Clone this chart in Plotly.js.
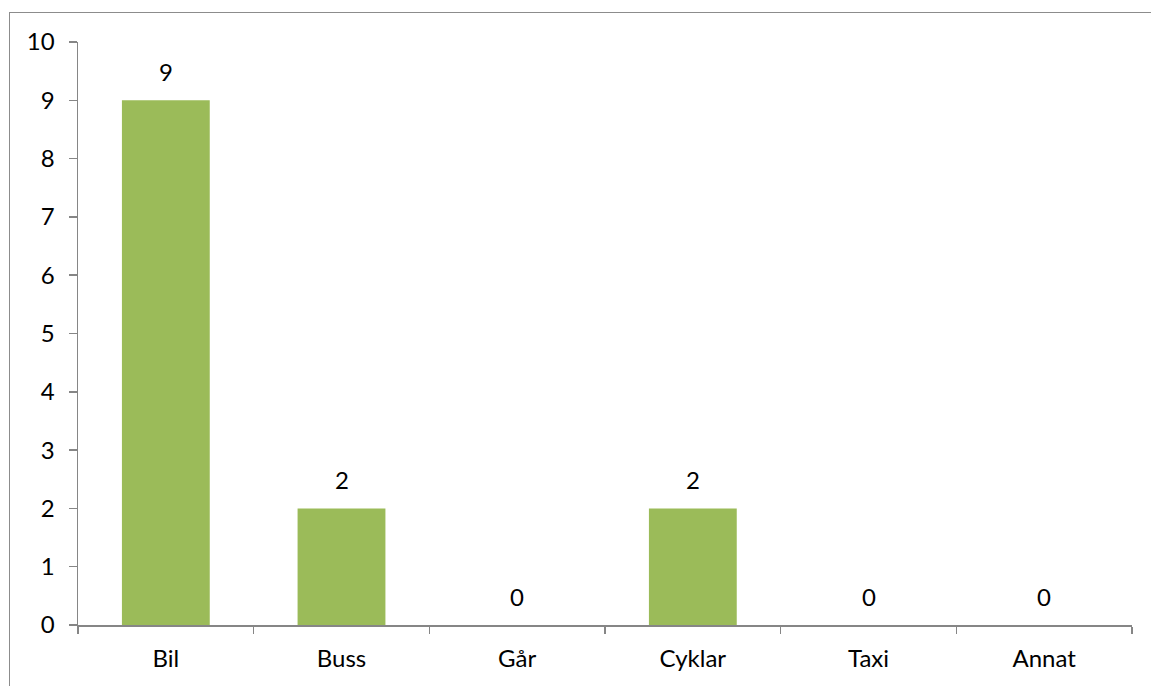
<!DOCTYPE html>
<html>
<head>
<meta charset="utf-8">
<script src="https://cdn.plot.ly/plotly-3.0.1.min.js"></script>
<style>
  html, body { margin: 0; padding: 0; background: #fff; overflow: hidden; }
  #chart { position: absolute; left: 0; top: 0; width: 1151px; height: 686px; }
  #frame { position: absolute; left: 9px; top: 12px; width: 1200px; height: 800px;
           border-left: 1.5px solid #8c8c8c; border-top: 1.5px solid #8c8c8c; pointer-events: none; }
</style>
</head>
<body>
<div id="chart"></div>
<div id="frame"></div>
<script>
const categories = ["Bil", "Buss", "Går", "Cyklar", "Taxi", "Annat"];
const values = [9, 2, 0, 2, 0, 0];
const yTicks = [0, 1, 2, 3, 4, 5, 6, 7, 8, 9, 10];

const FONT = "Lato, 'Open Sans', sans-serif";
const FS = 24;

const trace = {
  type: "bar",
  x: categories,
  y: values,
  marker: { color: "#9BBB59", line: { width: 0 } },
  width: 0.5,
  hoverinfo: "x+y"
};

const annotations = categories.map((c, i) => ({
  x: c, y: values[i], xref: "x", yref: "y",
  text: String(values[i]),
  showarrow: false,
  yanchor: "bottom",
  yshift: 12,
  font: { family: FONT, size: FS, color: "#000" }
}));

const layout = {
  width: 1151, height: 686,
  margin: { l: 78, r: 19, t: 42, b: 61 },
  paper_bgcolor: "rgba(0,0,0,0)",
  plot_bgcolor: "#fff",
  showlegend: false,
  font: { family: FONT, size: FS, color: "#000" },
  xaxis: {
    type: "category",
    showline: true, linecolor: "#868686", linewidth: 1.5,
    ticks: "outside", tickson: "boundaries", ticklen: 7, tickcolor: "#868686", tickwidth: 1.5,
    ticklabelstandoff: 12,
    showgrid: false, zeroline: false,
    tickfont: { family: FONT, size: FS, color: "#000" }
  },
  yaxis: {
    range: [0, 10],
    tickmode: "array", tickvals: yTicks, ticktext: yTicks.map(String),
    showline: true, linecolor: "#868686", linewidth: 1.5,
    ticks: "outside", ticklen: 8, tickcolor: "#868686", tickwidth: 1.5,
    ticklabelstandoff: 9,
    showgrid: false, zeroline: false,
    tickfont: { family: FONT, size: FS, color: "#000" }
  },
  annotations: annotations
};

Plotly.newPlot("chart", [trace], layout, { staticPlot: true, displayModeBar: false });
</script>
</body>
</html>
